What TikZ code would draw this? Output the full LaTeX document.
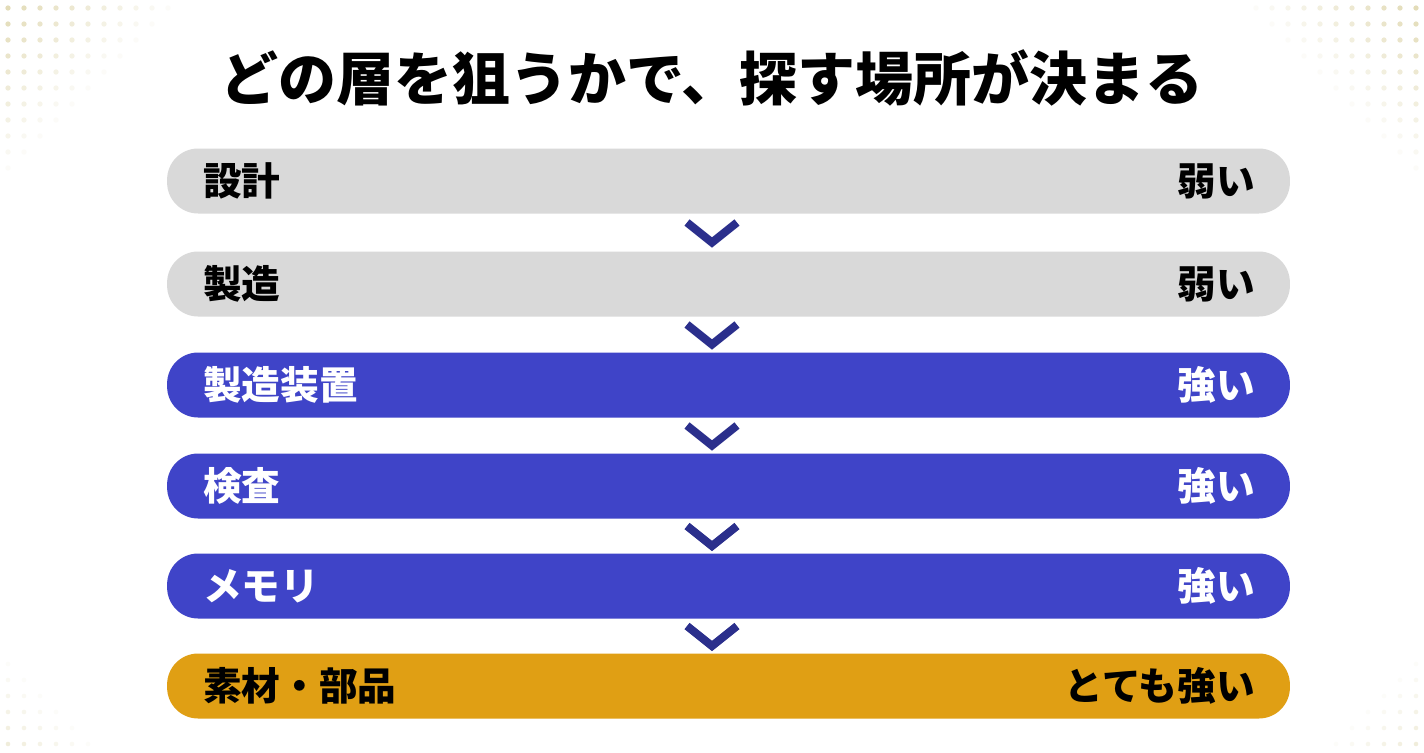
\documentclass[tikz,border=0pt]{standalone}
\usepackage{fontspec}
\newfontfamily\jpfont{Noto Sans CJK JP}[BoldFont={Noto Sans CJK JP Black}]
\usetikzlibrary{positioning,calc}

\definecolor{barGray}{HTML}{D9D9D9}
\definecolor{barBlue}{HTML}{3F44C8}
\definecolor{barGold}{HTML}{E09F14}
\definecolor{chevNavy}{HTML}{2B2F8C}
\definecolor{dotTint}{HTML}{E3DCB8}

\tikzset{
    layer/.style={
        rounded corners=0.62cm,
        minimum width=22.46cm,
        minimum height=1.3cm,
        inner sep=0pt
    },
    lefttag/.style={
        font=\jpfont\bfseries\fontsize{22}{24}\selectfont,
        anchor=west,
        inner sep=0pt
    },
    righttag/.style={
        font=\jpfont\bfseries\fontsize{22}{24}\selectfont,
        anchor=east,
        inner sep=0pt
    },
    chev/.style={
        chevNavy,
        line width=4.6pt,
        line join=miter
    }
}

\begin{document}
\begin{tikzpicture}[x=0.02cm,y=-0.02cm]
            \useasboundingbox[fill=white] (0,0) rectangle (1424,752);
            % faint dots in the corners
            \foreach \i in {0,...,10}{
                \pgfmathtruncatemacro\n{10-\i}
                \foreach \j in {0,...,\n}{
                    \pgfmathsetmacro\op{1-(\i+\j)/11}
                    \fill[dotTint,opacity=\op] (8+16*\i,8+16*\j) circle (1.5pt);
                    \fill[dotTint,opacity=\op] (1416-16*\i,8+16*\j) circle (1.5pt);
                }
            }
            \foreach \i in {0,...,5}{
                \pgfmathtruncatemacro\n{5-\i}
                \foreach \j in {0,...,\n}{
                    \pgfmathsetmacro\op{0.5-(\i+\j)/12}
                    \fill[dotTint,opacity=\op] (8+16*\i,744-16*\j) circle (1.3pt);
                    \fill[dotTint,opacity=\op] (1416-16*\i,744-16*\j) circle (1.3pt);
                }
            }
            % title
            \node[font=\jpfont\bfseries\fontsize{33}{36}\selectfont] (title) at (712,78)
                {どの層を狙うかで、探す場所が決まる};
            % layers
            \node[layer,fill=barGray] (design) at (728.5,181) {};
            \node[layer,fill=barGray] (fab) at (728.5,284) {};
            \node[layer,fill=barBlue] (tool) at (728.5,385) {};
            \node[layer,fill=barBlue] (inspect) at (728.5,486) {};
            \node[layer,fill=barBlue] (memory) at (728.5,586) {};
            \node[layer,fill=barGold] (material) at (728.5,686) {};
            % labels
            \node[lefttag] (design-l) at ([xshift=0.72cm]design.west) {設計};
            \node[righttag] (design-r) at ([xshift=-0.7cm]design.east) {弱い};
            \node[lefttag] (fab-l) at ([xshift=0.72cm]fab.west) {製造};
            \node[righttag] (fab-r) at ([xshift=-0.7cm]fab.east) {弱い};
            \node[lefttag,white] (tool-l) at ([xshift=0.72cm]tool.west) {製造装置};
            \node[righttag,white] (tool-r) at ([xshift=-0.7cm]tool.east) {強い};
            \node[lefttag,white] (inspect-l) at ([xshift=0.72cm]inspect.west) {検査};
            \node[righttag,white] (inspect-r) at ([xshift=-0.7cm]inspect.east) {強い};
            \node[lefttag,white] (memory-l) at ([xshift=0.72cm]memory.west) {メモリ};
            \node[righttag,white] (memory-r) at ([xshift=-0.7cm]memory.east) {強い};
            \node[lefttag] (material-l) at ([xshift=0.72cm]material.west) {素材・部品};
            \node[righttag] (material-r) at ([xshift=-0.7cm]material.east) {とても強い};
            % chevrons between the layers
            \foreach \a/\b in {design/fab,fab/tool,tool/inspect,inspect/memory,memory/material}{
                \coordinate (gap-\a) at ($(\a.south)!0.5!(\b.north)$);
                \coordinate (mid-\a) at (712,0 |- gap-\a);
                \draw[chev] ([shift={(-25,-10)}]mid-\a)
                    -- ([shift={(0,10)}]mid-\a)
                    -- ([shift={(25,-10)}]mid-\a);
            }
\end{tikzpicture}
\end{document}
